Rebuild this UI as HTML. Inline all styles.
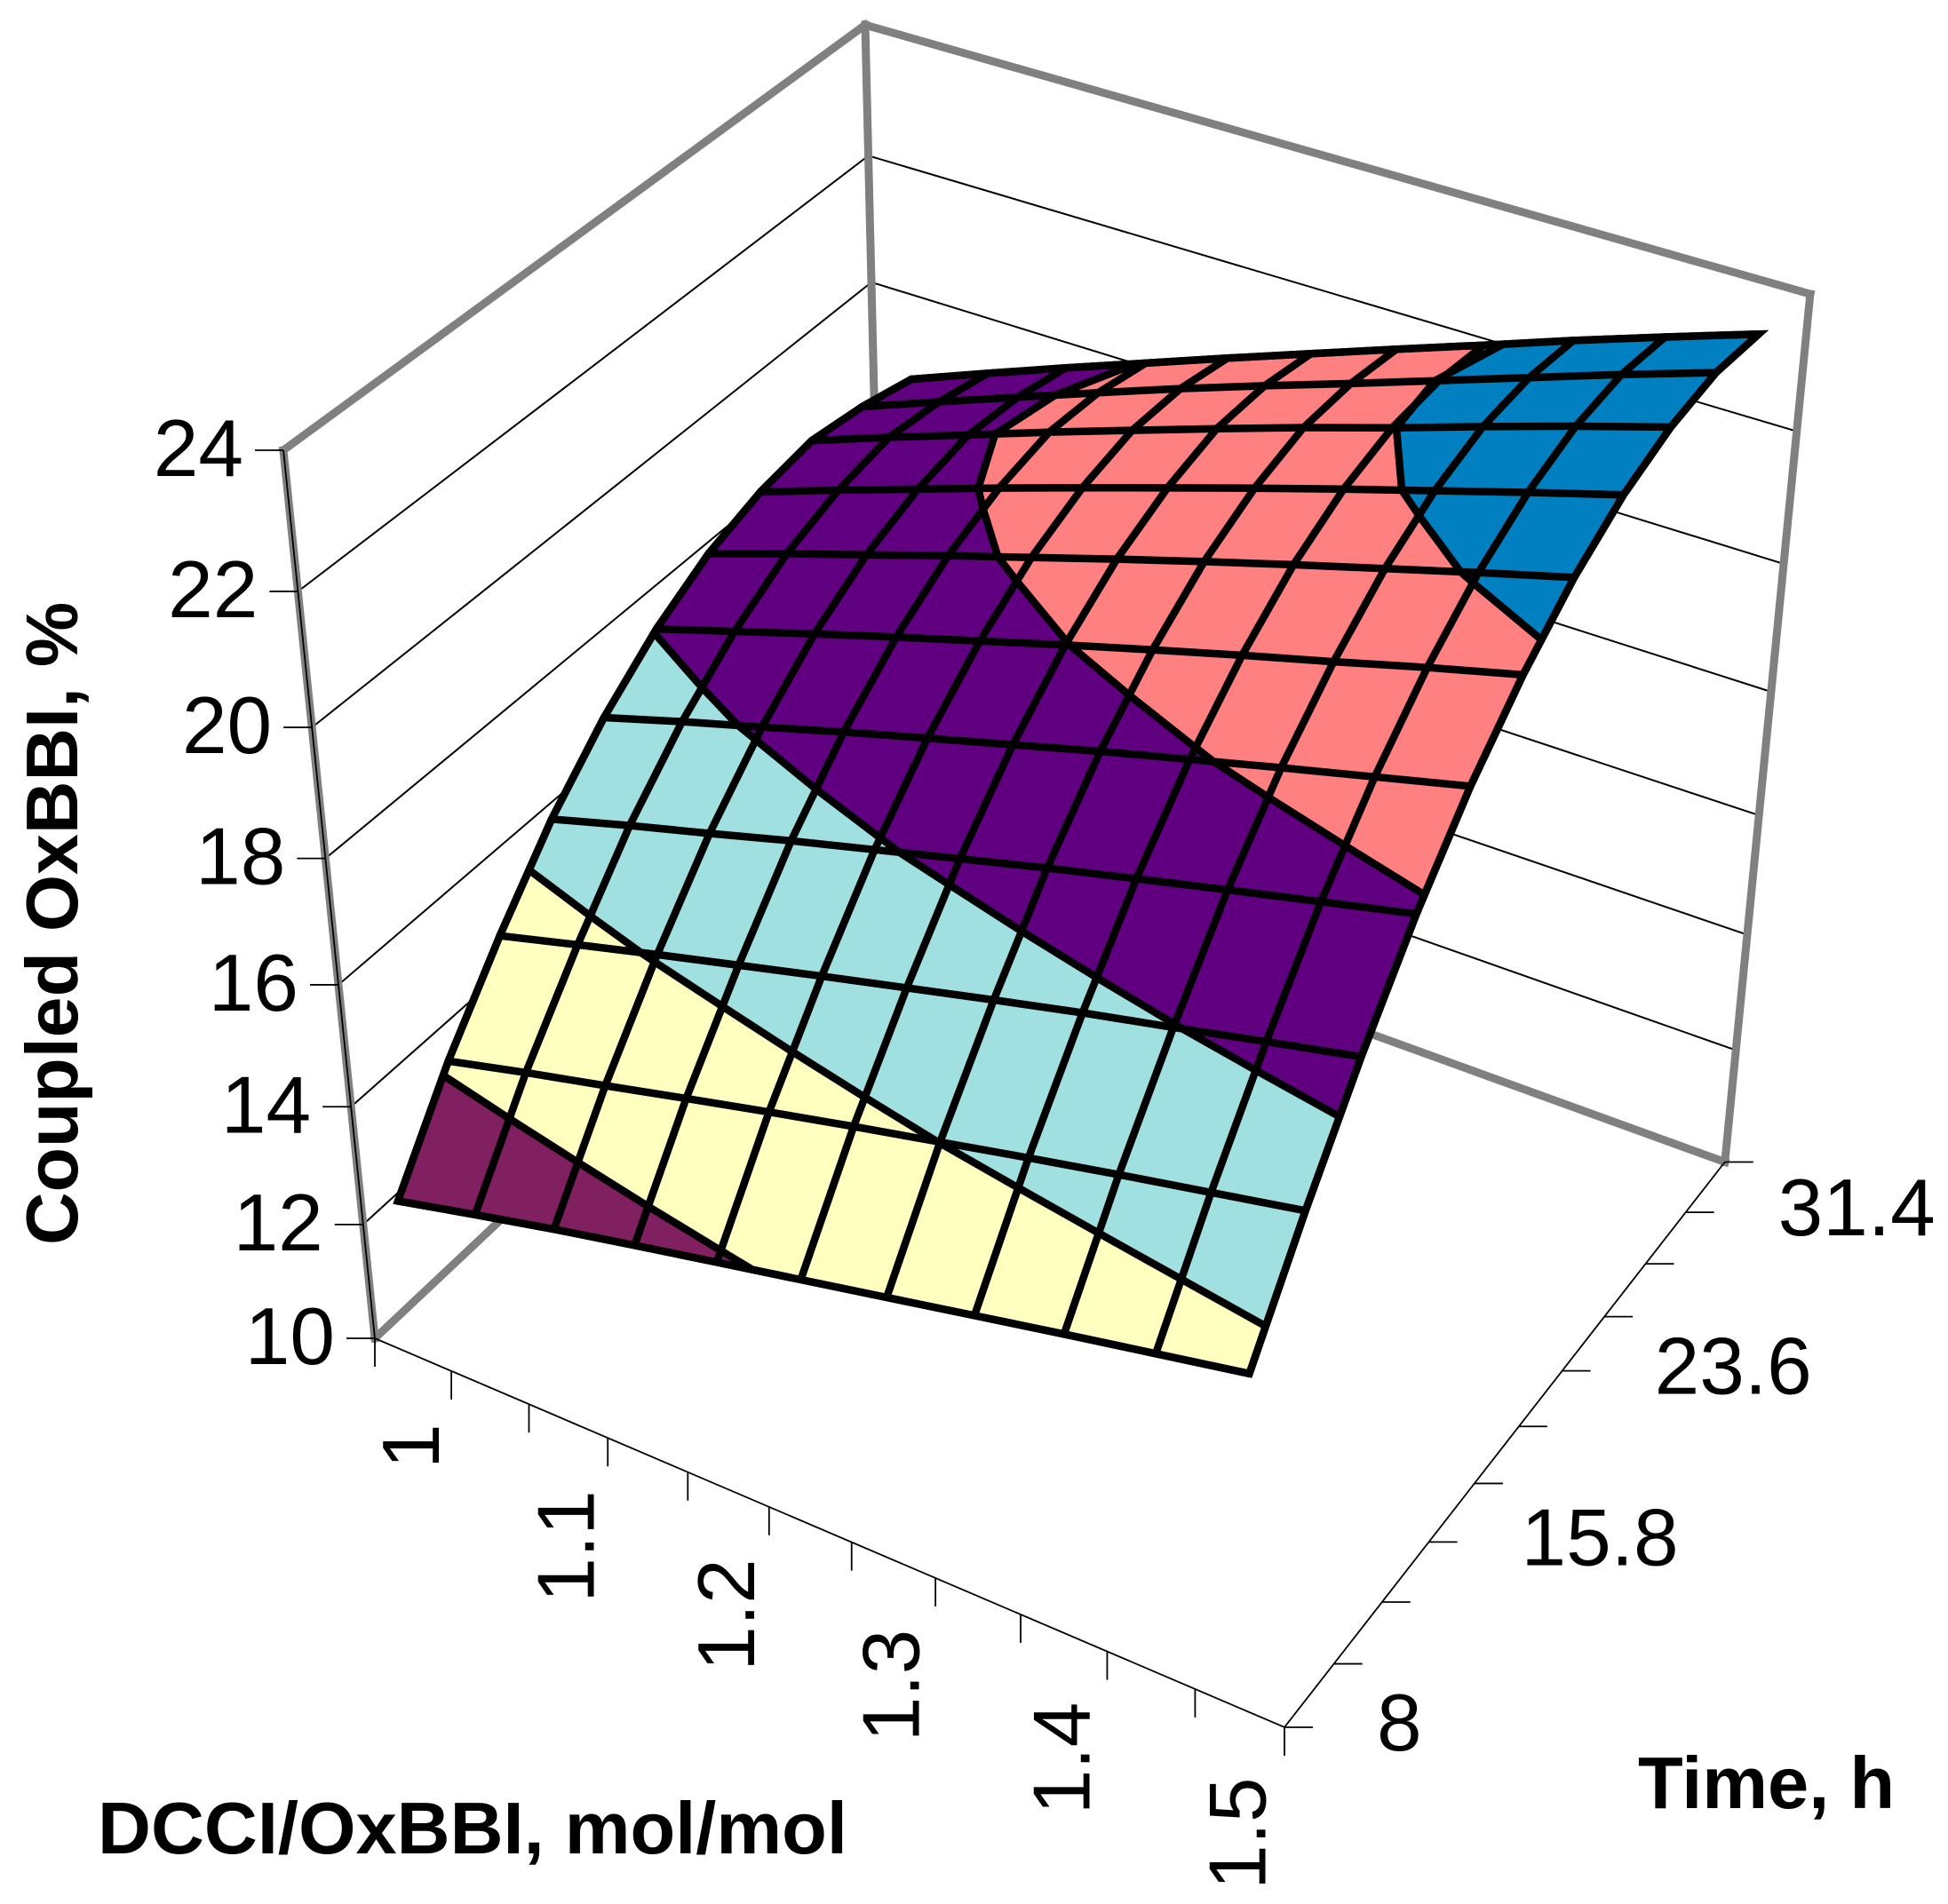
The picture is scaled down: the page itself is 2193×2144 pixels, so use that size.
<!DOCTYPE html>
<html lang="en">
<head>
<meta charset="utf-8">
<title>Coupled OxBBI response surface</title>
<style>
html,body{margin:0;padding:0;background:#fff;}
svg{display:block;}
text{font-family:"Liberation Sans",Arial,sans-serif;fill:#000;}
</style>
</head>
<body>
<svg id="chart" xmlns="http://www.w3.org/2000/svg" width="2193" height="2144" viewBox="0 0 2193 2144">
  <rect width="2193" height="2144" fill="#fff"/>
  <g id="walls"></g>
  <g id="axes"></g>
  <g id="surface"></g>
  <g id="labels"></g>
  <text transform="translate(87,1402) rotate(-90)" font-size="82.5" font-weight="bold">Coupled OxBBI, %</text>
  <text x="110" y="2087" font-size="83" font-weight="bold">DCCI/OxBBI, mol/mol</text>
  <text x="1844" y="2036" font-size="83" font-weight="bold">Time, h</text>
</svg>
<script>
// ---- chart data ----
const doseLevels = [1, 1.05, 1.1, 1.15, 1.2, 1.25, 1.3, 1.35, 1.4, 1.45, 1.5];
const timeLevels = [8, 10.6, 13.2, 15.8, 18.4, 21, 23.6, 26.2, 28.8, 31.4, 34];
const doseTickLabels = ['1', '1.1', '1.2', '1.3', '1.4', '1.5'];
const timeTickLabels = ['8', '15.8', '23.6', '31.4'];
const zTicks = [10, 12, 14, 16, 18, 20, 22, 24];
const bandBreaks = [10, 12, 14, 16, 18, 20, 22, 24];
const bandColors = ['#8080FF', '#802060', '#FFFFC0', '#A0E0E0', '#600080', '#FF8080', '#0080C0'];
// coupled % per time level (rows) and DCCI/OxBBI level (columns)
const coupled08_0 = [12.68, 13.00, 13.31, 13.60, 13.88, 14.16, 14.44, 14.72, 15.00, 15.27, 15.54];
const coupled10_6 = [14.15, 14.48, 14.79, 15.11, 15.42, 15.72, 16.01, 16.30, 16.58, 16.85, 17.12];
const coupled13_2 = [15.38, 15.73, 16.07, 16.40, 16.73, 17.05, 17.37, 17.68, 17.97, 18.27, 18.56];
const coupled15_8 = [16.48, 16.85, 17.20, 17.56, 17.90, 18.24, 18.58, 18.90, 19.22, 19.53, 19.84];
const coupled18_4 = [17.35, 17.74, 18.11, 18.49, 18.85, 19.21, 19.57, 19.91, 20.25, 20.58, 20.91];
const coupled21_0 = [18.03, 18.43, 18.83, 19.22, 19.60, 19.98, 20.35, 20.71, 21.06, 21.42, 21.76];
const coupled23_6 = [18.52, 18.94, 19.35, 19.76, 20.16, 20.56, 20.95, 21.33, 21.70, 22.07, 22.43];
const coupled26_2 = [18.81, 19.25, 19.68, 20.11, 20.53, 20.94, 21.35, 21.75, 22.14, 22.53, 22.91];
const coupled28_8 = [18.95, 19.41, 19.85, 20.30, 20.73, 21.16, 21.58, 21.98, 22.40, 22.81, 23.20];
const coupled31_4 = [18.83, 19.31, 19.78, 20.25, 20.71, 21.15, 21.58, 22.02, 22.46, 22.90, 23.32];
const coupled34_0 = [18.62, 19.11, 19.59, 20.06, 20.53, 20.99, 21.45, 21.90, 22.36, 22.80, 23.23];
const coupledRows = [coupled08_0, coupled10_6, coupled13_2, coupled15_8, coupled18_4, coupled21_0,
                     coupled23_6, coupled26_2, coupled28_8, coupled31_4, coupled34_0];

// ---- axis functions ----
const NS = 'http://www.w3.org/2000/svg';
const GRAY = '#808080';
const doseScale = i => (i + 0.5) / doseLevels.length;      // categories sit between ticks
const timeScale = j => j / (timeLevels.length - 1);
const zMin = zTicks[0], zMax = zTicks[zTicks.length - 1];
const zScale = z => (z - zMin) / (zMax - zMin);
// perspective camera
function project(u, v, w) {
  const d = 1 - 0.0821 * u + 0.1265 * v - 0.1183 * w;
  return [(422 + 905.3 * u + 700.7 * v - 140.7 * w) / d,
          (1507 + 278.3 * u - 418.7 * v - 1060 * w) / d];
}
const pts = list => list.map(p => p[0].toFixed(1) + ',' + p[1].toFixed(1)).join(' ');
function make(tag, parent, attrs) {
  const el = document.createElementNS(NS, tag);
  for (const k in attrs) el.setAttribute(k, attrs[k]);
  parent.appendChild(el);
  return el;
}

// ---- walls ----
const walls = document.getElementById('walls');
zTicks.slice(1, -1).forEach(z => {
  const w = zScale(z);
  const el = make('polyline', walls, {points: pts([project(0, 0, w), project(0, 1, w), project(1, 1, w)]),
    fill: 'none', stroke: '#000', 'stroke-width': 2});
  
  
});
[[[0,0,0],[0,1,0]], [[0,1,0],[1,1,0]], [[0,1,0],[0,1,1]], [[1,1,0],[1,1,1]],
 [[0,0,1],[0,1,1]], [[0,1,1],[1,1,1]], [[0,0,0],[0,0,1]]].forEach(seg => {
  const el = make('polyline', walls, {points: pts([project(...seg[0]), project(...seg[1])]),
    fill: 'none', stroke: GRAY, 'stroke-width': 9, 'stroke-linecap': 'square'});
  
  
});

// ---- axes and ticks ----
const axes = document.getElementById('axes');
function thin(a, b, name) {
  const el = make('line', axes, {x1: a[0], y1: a[1], x2: b[0], y2: b[1], stroke: '#000', 'stroke-width': 1.8});
  
  
}
thin(project(0, 0, 0), project(0, 0, 1), 'z-axis-line');
thin(project(0, 0, 0), project(1, 0, 0), 'dose-axis-line');
thin(project(1, 0, 0), project(1, 1, 0), 'time-axis-line');
zTicks.forEach(z => {
  const p = project(0, 0, zScale(z));
  thin(p, [p[0] - 32, p[1]], 'z-tick');
});
for (let i = 0; i <= doseLevels.length; i++) {
  const p = project(i / doseLevels.length, 0, 0);
  thin(p, [p[0], p[1] + 32], 'dose-tick');
}
for (let j = 0; j < timeLevels.length; j++) {
  const p = project(1, timeScale(j), 0);
  thin(p, [p[0] + 32, p[1]], 'time-tick');
}

// ---- surface ----
const surface = document.getElementById('surface');
function clip(poly, level, keepAbove) {
  const out = [];
  for (let k = 0; k < poly.length; k++) {
    const a = poly[k], b = poly[(k + 1) % poly.length];
    const ina = keepAbove ? a[2] >= level : a[2] <= level;
    const inb = keepAbove ? b[2] >= level : b[2] <= level;
    if (ina) out.push(a);
    if (ina !== inb) {
      const f = (level - a[2]) / (b[2] - a[2]);
      out.push([a[0] + f * (b[0] - a[0]), a[1] + f * (b[1] - a[1]), level]);
    }
  }
  return out;
}
const nodeP = n => project(n[0], n[1], zScale(n[2]));
const nT = timeLevels.length, nD = doseLevels.length;
const cellGroup = make('g', surface, {});


const contourSegs = [];
for (let j = nT - 2; j >= 0; j--) {
  for (let i = 0; i < nD - 1; i++) {
    const cell = [
      [doseScale(i), timeScale(j), coupledRows[j][i]],
      [doseScale(i + 1), timeScale(j), coupledRows[j][i + 1]],
      [doseScale(i + 1), timeScale(j + 1), coupledRows[j + 1][i + 1]],
      [doseScale(i), timeScale(j + 1), coupledRows[j + 1][i]]
    ];
    for (let b = 0; b < bandColors.length; b++) {
      let poly = clip(cell, bandBreaks[b], true);
      if (poly.length >= 3) poly = clip(poly, bandBreaks[b + 1], false);
      if (poly.length >= 3) {
        const el = make('polygon', cellGroup, {points: pts(poly.map(nodeP)), fill: bandColors[b],
          stroke: bandColors[b], 'stroke-width': 1});
        
        
      }
    }
    bandBreaks.slice(1, -1).forEach(level => {
      const hits = [];
      for (let k = 0; k < 4; k++) {
        const a = cell[k], c = cell[(k + 1) % 4];
        if ((a[2] - level) * (c[2] - level) < 0) {
          const f = (level - a[2]) / (c[2] - a[2]);
          hits.push([a[0] + f * (c[0] - a[0]), a[1] + f * (c[1] - a[1]), level]);
        }
      }
      for (let h = 0; h + 1 < hits.length; h += 2) contourSegs.push([hits[h], hits[h + 1]]);
    });
  }
}
const lineStyle = {fill: 'none', stroke: '#000', 'stroke-width': 8.5, 'stroke-linecap': 'round', 'stroke-linejoin': 'round'};
contourSegs.forEach(seg => {
  const el = make('polyline', surface, Object.assign({points: pts(seg.map(nodeP))}, lineStyle));
  
  
});
for (let j = 0; j < nT; j++) {
  const row = doseLevels.map((d, i) => nodeP([doseScale(i), timeScale(j), coupledRows[j][i]]));
  const el = make('polyline', surface, Object.assign({points: pts(row)}, lineStyle));
  
  
}
for (let i = 0; i < nD; i++) {
  const col = timeLevels.map((t, j) => nodeP([doseScale(i), timeScale(j), coupledRows[j][i]]));
  const el = make('polyline', surface, Object.assign({points: pts(col)}, lineStyle));
  
  
}
const rim = [];
for (let i = 0; i < nD; i++) rim.push(nodeP([doseScale(i), timeScale(0), coupledRows[0][i]]));
for (let j = 1; j < nT; j++) rim.push(nodeP([doseScale(nD - 1), timeScale(j), coupledRows[j][nD - 1]]));
for (let i = nD - 2; i >= 0; i--) rim.push(nodeP([doseScale(i), timeScale(nT - 1), coupledRows[nT - 1][i]]));
for (let j = nT - 2; j > 0; j--) rim.push(nodeP([doseScale(0), timeScale(j), coupledRows[j][0]]));
const rimEl = make('polygon', surface, {points: pts(rim), fill: 'none', stroke: '#000', 'stroke-width': 8.5, 'stroke-linejoin': 'miter', 'stroke-miterlimit': 6});



// ---- tick labels ----
const labels = document.getElementById('labels');
zTicks.forEach(z => {
  const p = project(0, 0, zScale(z));
  const el = make('text', labels, {x: p[0] - 45, y: p[1] + 29, 'font-size': 91, 'text-anchor': 'end'});
  el.textContent = String(z);
  
  
});
doseTickLabels.forEach(lab => {
  const i = doseLevels.indexOf(parseFloat(lab));
  const p = project(doseScale(i), 0, 0);
  const el = make('text', labels, {transform: 'translate(' + (p[0] + 29).toFixed(1) + ',' + (p[1] + 78).toFixed(1) + ') rotate(-90)',
    'font-size': 91, 'text-anchor': 'end'});
  el.textContent = lab;
  
  
});
timeTickLabels.forEach(lab => {
  const j = timeLevels.indexOf(parseFloat(lab));
  const p = project(1, timeScale(j), 0);
  const el = make('text', labels, {x: p[0] + 104, y: p[1] + 26, 'font-size': 91});
  el.textContent = lab;
  
  
});
</script>
</body>
</html>
